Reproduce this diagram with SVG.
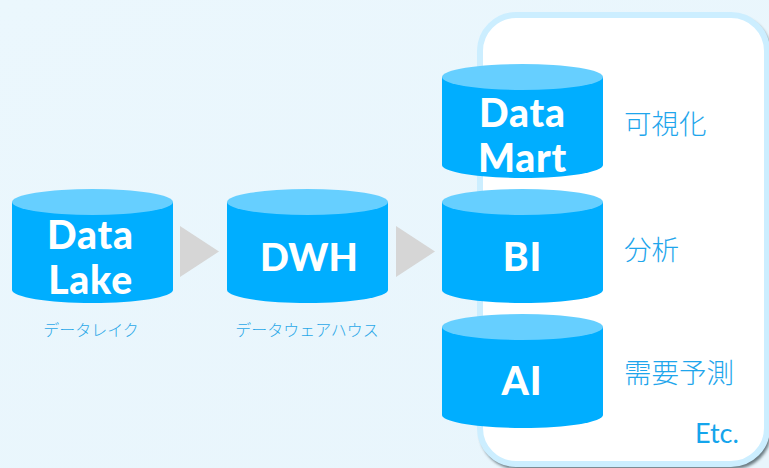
<svg xmlns="http://www.w3.org/2000/svg" width="769" height="468" viewBox="0 0 769 468">
<style>
.body{fill:#00aeff}
.top{fill:#66cfff}
.t{font-family:"Lato","Noto Sans CJK JP",sans-serif;font-weight:900;font-size:39px;letter-spacing:.8px;fill:#fff;text-anchor:middle}
.j{font-family:"Noto Sans CJK JP",sans-serif;font-weight:300;font-size:27.500px;fill:#1fa6ec}
.s{font-family:"Noto Sans CJK JP",sans-serif;font-weight:300;font-size:16px;fill:#2aa8e8;text-anchor:middle}
.a{fill:#d6d6d6}
</style>
<defs>
<linearGradient id="bg" x1="0" y1="0" x2="1" y2="1"><stop offset="0" stop-color="#ebf7fd"/><stop offset="1" stop-color="#e8f5fc"/></linearGradient>
<filter id="sh" x="-5%" y="-5%" width="110%" height="110%"><feGaussianBlur stdDeviation="1.5"/></filter>
<g id="cyl"><path class="body" d="M0 13V101C0 108 36 114 80.500 114S161 108 161 101V13Z"/><ellipse class="top" cx="80.500" cy="13" rx="80.500" ry="13"/></g>
</defs>
<rect width="769" height="468" fill="url(#bg)"/>
<g id="panel">
<rect x="480" y="16" width="291" height="453" rx="37" fill="#4a5a62" opacity=".8" filter="url(#sh)"/>
<rect x="480" y="15" width="287" height="449" rx="36" fill="#fff" stroke="#cceeff" stroke-width="6"/>
</g>
<g id="connectors">
<path class="a" d="M180 226L219 251.500L180 277Z"/>
<path class="a" d="M396 226L435 251.500L396 277Z"/>
</g>
<g id="data-lake"><use href="#cyl" x="12" y="189"/><text class="t" x="90.500" y="249">Data</text><text class="t" x="90.500" y="294">Lake</text><text class="s" x="91" y="336">データレイク</text></g>
<g id="dwh"><use href="#cyl" x="227" y="189"/><text class="t" x="309" y="271" style="font-size:38px;letter-spacing:0">DWH</text><text class="s" x="307" y="336">データウェアハウス</text></g>
<g id="data-mart"><use href="#cyl" x="442" y="64"/><text class="t" x="522.500" y="127">Data</text><text class="t" x="522.500" y="172">Mart</text></g>
<g id="bi"><use href="#cyl" x="442" y="189"/><text class="t" x="522.500" y="271">BI</text></g>
<g id="ai"><use href="#cyl" x="442" y="314"/><text class="t" x="522" y="395">AI</text></g>
<g id="labels">
<text class="j" x="624" y="134">可視化</text>
<text class="j" x="624" y="260">分析</text>
<text class="j" x="624" y="383">需要予測</text>
<text x="695" y="443" style="font-family:'Lato',sans-serif;font-weight:400;font-size:27px;fill:#14a5ec">Etc.</text>
</g>
</svg>
